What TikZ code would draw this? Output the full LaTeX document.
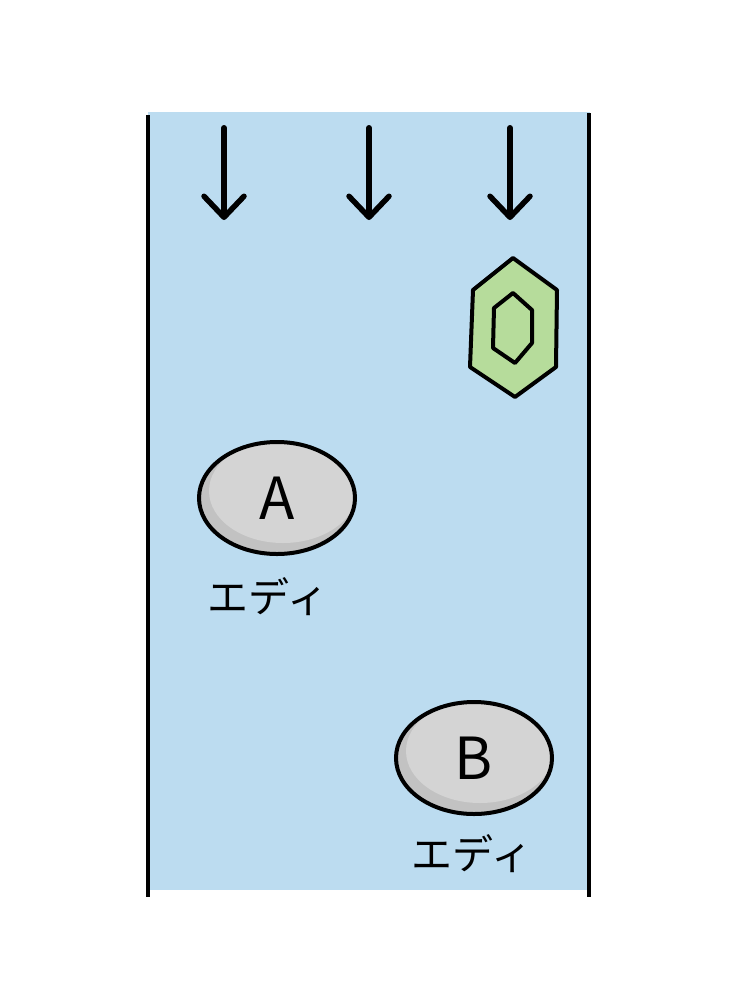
\documentclass[tikz,border=0pt]{standalone}
\usepackage{fontspec}
\setmainfont{Noto Sans CJK JP}
\usetikzlibrary{arrows.meta,shapes.geometric,positioning}
\definecolor{pool}{HTML}{BCDCF0}
\definecolor{stonegray}{HTML}{D4D4D4}
\definecolor{stoneshade}{HTML}{C2C2C2}
\definecolor{gemgreen}{HTML}{B6DC9B}
\tikzset{
  fall/.style = {line width=6pt, line cap=round, -{Straight Barb[length=21pt,width=40pt,line width=5.5pt,round]}},
  wall/.style = {line width=4pt},
  stone/.style = {
    ellipse,
    draw,
    line width=4pt,
    fill=stoneshade,
    minimum width=156pt,
    minimum height=112pt,
    inner sep=0pt,
    font=\fontsize{58}{58}\selectfont,
    path picture={\fill[stonegray] ([xshift=6pt,yshift=7pt]path picture bounding box.center) ellipse (74pt and 52pt);}},
  tag/.style = {font=\fontsize{41}{41}\selectfont, inner sep=0pt},
}
\begin{document}
\begin{tikzpicture}[x=1pt,y=-1pt]
  \useasboundingbox (0,0) rectangle (735,997);
  \fill[pool] (148,112) rectangle (590,890);
  \draw[wall] (148,115) -- (148,897);
  \draw[wall] (589,113) -- (589,897);

  % falling current
  \foreach \x [count=\i] in {224,369,510} {
    \coordinate (top\i) at (\x,128);
    \coordinate (tip\i) at (\x,220);
    \draw[fall] (top\i) -- (tip\i);
  }

  % gem
  \draw[line width=4pt, fill=gemgreen, line join=round]
    (513,258) -- (557,290) -- (556,367) -- (515,397) -- (470,367) -- (473,290) -- cycle;
  \draw[line width=4pt, line join=round]
    (513,293) -- (532,310) -- (532,343) -- (515,363) -- (493,348) -- (494,308) -- cycle;

  \node[stone] (A) at (277,498) {A};
  \node[tag] (tagA) at (268,597) {エディ};

  \node[stone] (B) at (474,758) {B};
  \node[tag] (tagB) at (472,854) {エディ};

\end{tikzpicture}
\end{document}
